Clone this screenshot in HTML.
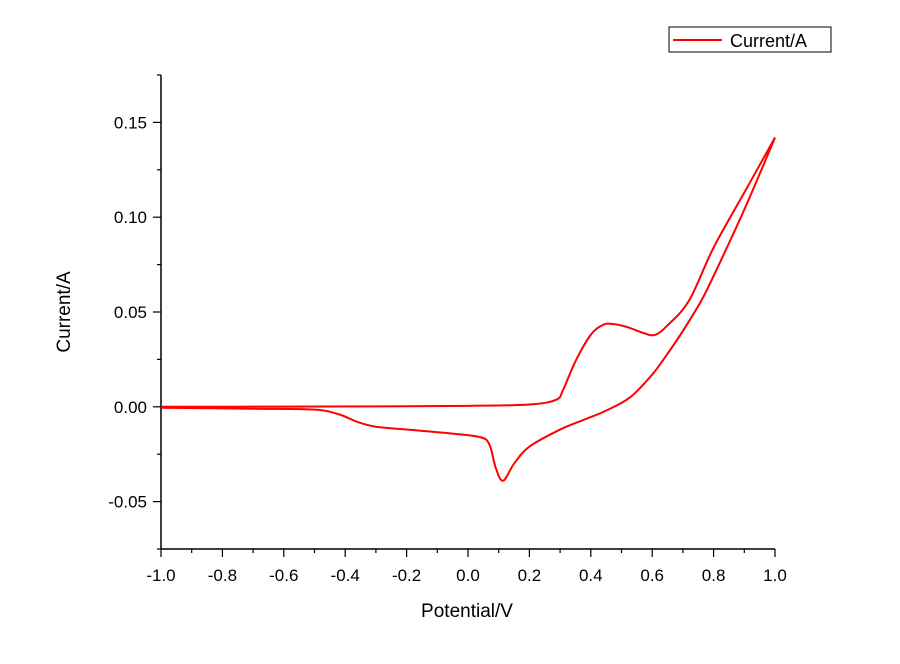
<!DOCTYPE html>
<html><head><meta charset="utf-8"><style>
body{margin:0;background:#fff;}
svg text{font-family:"Liberation Sans",Arial,sans-serif;fill:#000;}
</style></head><body>
<svg id="chart" width="900" height="659" viewBox="0 0 900 659" xmlns="http://www.w3.org/2000/svg">
<g id="axes"></g>
<g id="plot"></g>
<g>
<rect x="669" y="27" width="162" height="25" fill="#fff" stroke="#000" stroke-width="1"/>
<line x1="673" y1="40" x2="722" y2="40" stroke="#ff0000" stroke-width="2"/>
<text x="730" y="47" font-size="18">Current/A</text>
</g>
<text x="467" y="617" font-size="19" text-anchor="middle">Potential/V</text>
<text transform="translate(70,312) rotate(-90)" font-size="19" text-anchor="middle">Current/A</text>
</svg>
<script>
const forwardV = [-1.0,-0.6,-0.2,0.0,0.2,0.287,0.31,0.35,0.4,0.44,0.472,0.52,0.57,0.609,0.65,0.72,0.8,0.9,1.0];
const forwardI = [0.0,0.0001,0.0003,0.0005,0.0012,0.0037,0.009,0.024,0.038,0.0432,0.0437,0.042,0.039,0.0379,0.043,0.056,0.084,0.113,0.142];
const reverseV = [1.0,0.9,0.8,0.76,0.7,0.65,0.6,0.528,0.45,0.375,0.3,0.2,0.15,0.114,0.09,0.07,0.04,-0.059,-0.2,-0.3,-0.36,-0.42,-0.5,-0.7,-1.0];
const reverseI = [0.142,0.104,0.069,0.056,0.040,0.028,0.017,0.005,-0.002,-0.007,-0.012,-0.021,-0.030,-0.039,-0.032,-0.020,-0.016,-0.014,-0.012,-0.0105,-0.008,-0.004,-0.0015,-0.001,-0.0005];
const xTicks = [-1.0,-0.8,-0.6,-0.4,-0.2,0.0,0.2,0.4,0.6,0.8,1.0];
const xTickLabels = ["-1.0","-0.8","-0.6","-0.4","-0.2","0.0","0.2","0.4","0.6","0.8","1.0"];
const yTicks = [-0.05,0.0,0.05,0.10,0.15];
const yTickLabels = ["-0.05","0.00","0.05","0.10","0.15"];

const X0=161,X1=775,Y0=549,Y1=75,xmin=-1,xmax=1,ymin=-0.075,ymax=0.175;
const sx=v=>X0+(v-xmin)/(xmax-xmin)*(X1-X0);
const sy=v=>Y0-(v-ymin)/(ymax-ymin)*(Y0-Y1);
const NS="http://www.w3.org/2000/svg";
function mk(tag,attrs,parent){const e=document.createElementNS(NS,tag);for(const k in attrs)e.setAttribute(k,attrs[k]);parent.appendChild(e);return e;}
const axes=document.getElementById('axes');
let a=mk('line',{x1:X0,y1:Y1,x2:X0,y2:Y0,stroke:'#000','stroke-width':1.5},axes);


a=mk('line',{x1:X0,y1:Y0,x2:X1,y2:Y0,stroke:'#000','stroke-width':1.5},axes);


xTicks.forEach((v,i)=>{
  mk('line',{x1:sx(v),y1:Y0,x2:sx(v),y2:Y0+8,stroke:'#000','stroke-width':1.2},axes);
  if(i<xTicks.length-1){const m=(v+xTicks[i+1])/2;mk('line',{x1:sx(m),y1:Y0,x2:sx(m),y2:Y0+4,stroke:'#000','stroke-width':1.2},axes);}
  const t=mk('text',{x:sx(v),y:Y0+32,'font-size':17,'text-anchor':'middle'},axes);
  t.textContent=xTickLabels[i];
  
  
});
for(let v=-0.075;v<=0.1751;v+=0.025){
  const major=yTicks.some(t=>Math.abs(t-v)<1e-6);
  mk('line',{x1:X0,y1:sy(v),x2:X0-(major?8:4),y2:sy(v),stroke:'#000','stroke-width':1.2},axes);
}
yTicks.forEach((v,i)=>{
  const t=mk('text',{x:X0-14,y:sy(v)+6,'font-size':17,'text-anchor':'end'},axes);
  t.textContent=yTickLabels[i];
  
  
});
function smooth(xs,ys){
  const p=xs.map((x,i)=>[sx(x),sy(ys[i])]);
  let d=`M${p[0][0]},${p[0][1]}`;
  for(let i=0;i<p.length-1;i++){
    const p0=p[i-1]||p[i],p1=p[i],p2=p[i+1],p3=p[i+2]||p2;
    const c1=[p1[0]+(p2[0]-p0[0])/6,p1[1]+(p2[1]-p0[1])/6];
    const c2=[p2[0]-(p3[0]-p1[0])/6,p2[1]-(p3[1]-p1[1])/6];
    d+=` C${c1[0]},${c1[1]} ${c2[0]},${c2[1]} ${p2[0]},${p2[1]}`;
  }
  return d;
}
const plot=document.getElementById('plot');
let s=mk('path',{d:smooth(forwardV,forwardI),fill:'none',stroke:'#ff0000','stroke-width':2},plot);


s=mk('path',{d:smooth(reverseV,reverseI),fill:'none',stroke:'#ff0000','stroke-width':2},plot);


</script>
</body></html>
